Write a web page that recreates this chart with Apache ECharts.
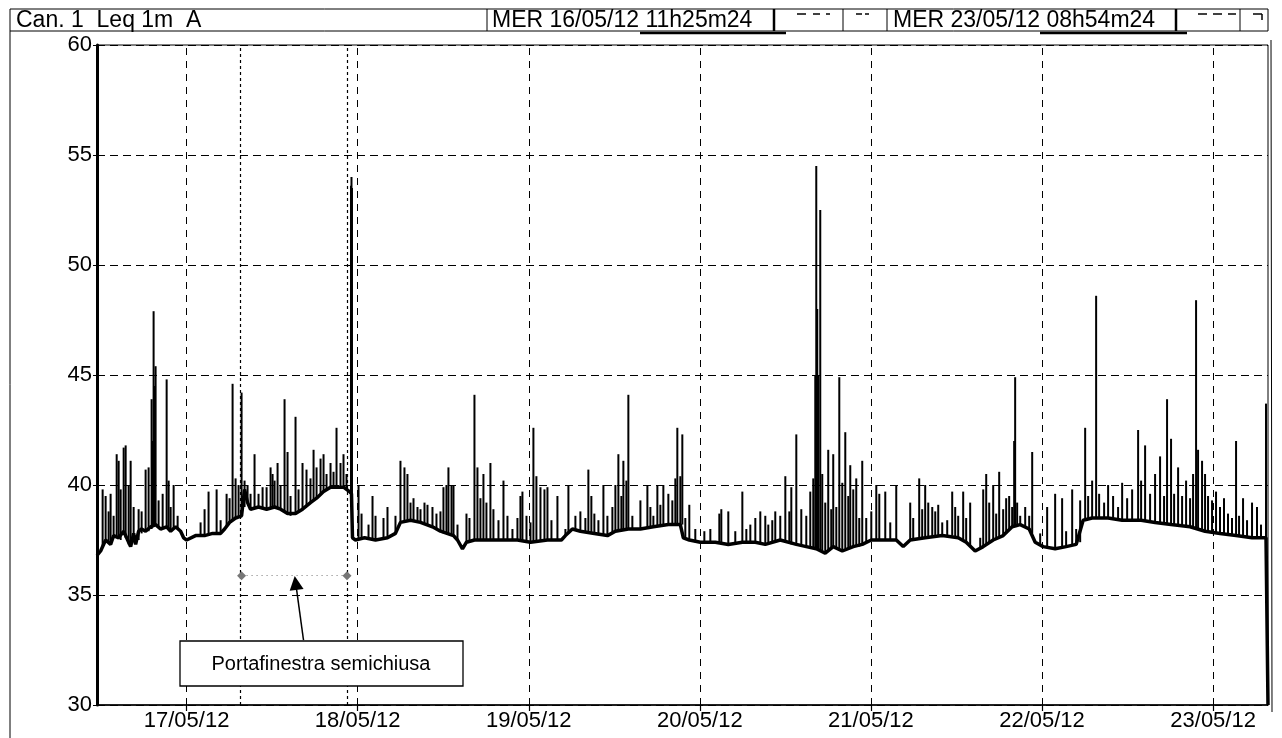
<!DOCTYPE html>
<html><head><meta charset="utf-8">
<script src="https://cdn.jsdelivr.net/npm/echarts@6/dist/echarts.min.js"></script>
<style>html,body{margin:0;padding:0;background:#fff}#c{width:1282px;height:738px}</style>
</head><body><div id="c"></div>
<script>
// x values: hours since 16/05/12 00:00
const xStart = 11.43, xEnd = 175.70;
const dayTicks = [24, 48, 72, 96, 120, 144, 168];
const dayLabels = ['17/05/12','18/05/12','19/05/12','20/05/12','21/05/12','22/05/12','23/05/12'];
const yMin = 30, yMax = 60, yStep = 5;

// baseline level [hour, dB]
const baseline = [
[11.43,36.8],[11.94,37.0],[12.64,37.5],[13.34,37.3],[13.76,37.7],[14.47,37.6],[15.17,37.9],[15.87,37.4],[16.15,37.2],[16.57,37.8],
[16.85,37.3],[17.27,37.9],[17.69,38.0],[18.25,37.9],[18.95,38.1],[19.65,38.2],[20.35,38.0],[21.20,38.1],[21.76,37.9],[22.46,38.1],
[23.16,37.9],[23.58,37.6],[24.00,37.5],[25.26,37.7],[26.52,37.7],[27.65,37.8],[28.77,37.8],[29.33,38.0],[30.03,38.3],[30.87,38.5],
[31.71,38.6],[32.13,39.8],[32.55,39.2],[32.97,38.9],[34.09,39.0],[35.22,38.9],[36.34,39.0],[37.18,38.9],[38.16,38.7],[39.28,38.7],
[40.26,38.9],[41.38,39.2],[42.23,39.4],[43.21,39.7],[44.19,39.9],[45.03,39.9],[46.01,39.9],[46.85,39.7],[47.13,39.6],[47.27,37.6],
[47.69,37.5],[48.96,37.6],[50.50,37.5],[52.18,37.6],[53.30,37.8],[54.00,38.3],[55.41,38.4],[56.81,38.3],[58.49,38.1],[59.61,37.9],
[61.44,37.7],[62.00,37.5],[62.70,37.1],[63.26,37.4],[64.38,37.5],[66.62,37.5],[68.45,37.5],[70.41,37.5],[72.24,37.4],[74.62,37.5],
[76.58,37.5],[77.14,37.7],[78.12,38.0],[79.24,37.9],[81.20,37.8],[83.03,37.7],[84.15,37.9],[85.97,38.0],[87.66,38.0],[89.48,38.1],
[91.58,38.2],[93.26,38.2],[93.68,37.6],[94.52,37.5],[96.07,37.4],[98.17,37.4],[99.99,37.3],[101.96,37.4],[103.78,37.4],[105.18,37.3],
[107.28,37.5],[109.53,37.3],[110.93,37.2],[112.33,37.1],[113.59,36.9],[114.71,37.2],[115.98,37.0],[117.52,37.2],[118.78,37.3],[120.05,37.5],
[122.01,37.5],[123.55,37.5],[124.53,37.2],[125.51,37.5],[127.61,37.6],[130.00,37.7],[132.24,37.6],[133.36,37.4],[134.62,37.0],[135.75,37.2],
[137.15,37.5],[138.55,37.7],[139.81,38.1],[140.94,38.2],[142.20,38.0],[143.04,37.4],[144.16,37.2],[145.84,37.1],[147.38,37.2],[148.79,37.3],
[149.77,38.4],[151.03,38.5],[153.27,38.5],[155.24,38.4],[157.90,38.4],[159.86,38.3],[162.10,38.2],[164.77,38.1],[166.87,37.9],[168.97,37.8],
[171.22,37.7],[173.46,37.6],[175.42,37.6],[175.70,30.0]
];

// short peaks [hour, from dB, to dB]
const spikes = [
[12.22,37.2,39.8],[12.64,37.4,39.5],[13.06,37.4,38.8],[13.34,37.3,39.6],[13.76,37.6,38.6],[14.19,37.6,41.4],[14.47,37.6,41.1],[14.75,37.5,39.8],
[15.17,37.8,41.7],[15.45,37.6,41.8],[15.87,37.3,40.0],[16.15,37.2,41.1],[16.57,37.6,39.0],[17.27,37.5,38.9],[17.69,37.8,38.8],[18.25,37.9,40.7],
[18.67,37.9,40.8],[19.09,38.0,43.9],[19.23,38.1,42.0],[19.37,38.1,47.9],[19.51,38.2,44.5],[19.65,38.2,45.4],[20.07,38.1,39.3],[20.64,38.0,39.6],
[21.20,38.1,44.8],[21.48,38.0,40.2],[21.76,37.9,39.0],[22.18,38.0,40.0],[22.74,38.0,38.6],
[25.96,37.7,38.3],[26.52,37.7,38.9],[27.08,37.7,39.7],[28.21,37.8,39.8],[28.77,37.8,38.4],[29.61,38.1,39.6],[30.03,38.3,39.4],[30.45,38.4,44.6],
[30.87,38.5,40.3],[31.29,38.6,40.0],[31.71,38.6,44.2],
[32.13,39.0,40.2],[32.55,39.2,40.0],[32.97,38.9,39.6],[33.53,39.0,41.4],[34.09,39.0,39.6],[34.66,38.9,39.9],[35.22,38.9,39.9],[35.78,39.0,40.8],
[36.06,39.0,40.5],[36.34,39.0,40.2],[36.76,39.0,41.0],[37.18,38.9,40.0],[37.74,38.8,43.9],[38.16,38.7,41.5],[38.58,38.6,39.5],[39.28,38.7,43.1],
[39.70,38.8,39.8],[40.26,38.9,41.0],[40.82,39.0,40.7],[41.38,39.2,40.3],[41.81,39.3,41.6],[42.23,39.4,40.8],[42.79,39.6,41.2],[43.21,39.7,41.4],
[43.63,39.8,40.5],[44.19,39.9,41.0],[44.61,39.9,40.6],[45.03,39.9,42.6],[45.59,39.9,41.0],[46.01,39.9,41.4],[46.43,39.8,40.5],[47.06,39.6,53.6],[47.13,39.6,54.0],[47.20,39.0,53.5],
[48.12,37.5,40.0],[48.54,37.5,38.7],[49.52,37.6,38.2],[50.08,37.5,39.5],[50.50,37.5,38.6],[51.62,37.6,38.5],[52.18,37.6,39.0],[53.30,37.8,38.6],
[54.00,38.3,41.1],[54.56,38.4,40.8],[54.98,38.4,40.5],[55.41,38.4,39.2],[55.83,38.4,39.4],[56.39,38.3,39.0],[56.81,38.3,38.9],[57.37,38.2,39.2],
[57.79,38.2,39.1],[58.49,38.1,39.0],[59.05,38.0,38.7],[59.61,37.9,38.8],[60.03,37.8,39.9],[60.45,37.8,40.0],[60.73,37.8,40.8],[61.16,37.7,40.0],
[61.44,37.7,40.0],[62.00,37.5,38.2],[63.26,37.4,38.7],[63.68,37.4,38.5],[64.38,37.5,44.1],[64.80,37.5,40.8],[65.22,37.5,39.4],[65.64,37.5,40.5],
[66.06,37.5,39.2],[66.62,37.5,41.0],[67.04,37.5,38.9],[67.75,37.5,38.4],[68.45,37.5,40.2],[69.01,37.5,38.6],[69.71,37.5,38.0],[70.41,37.5,38.5],
[70.83,37.5,39.5],[71.11,37.5,39.7],[71.68,37.4,38.6],[72.24,37.4,38.3],[72.65,37.4,42.6],[73.07,37.4,40.4],[73.64,37.5,39.9],[74.20,37.5,39.8],
[74.62,37.5,39.9],[75.18,37.5,38.4],[76.02,37.5,39.5],[77.14,37.7,38.0],[77.56,37.8,40.0],[78.54,38.0,38.6],[79.24,37.9,38.8],[79.94,37.9,38.5],
[80.36,37.9,40.7],[80.78,37.8,39.5],[81.20,37.8,38.7],[81.77,37.8,38.4],[82.47,37.7,40.0],[83.03,37.7,38.6],
[83.73,37.8,39.0],[84.15,37.9,40.0],[84.57,37.9,41.4],[84.99,37.9,39.5],[85.27,38.0,41.1],[85.69,38.0,40.2],[85.97,38.0,44.1],[86.53,38.0,38.6],
[87.66,38.0,39.3],[88.64,38.0,40.0],[89.06,38.1,39.0],[89.48,38.1,38.6],[90.04,38.1,40.0],[90.46,38.1,39.1],[90.88,38.2,40.0],[91.58,38.2,39.6],
[92.14,38.2,39.3],[92.56,38.2,40.3],[92.84,38.2,42.6],[93.26,38.2,40.4],[93.54,38.2,42.3],[93.96,37.6,38.5],[94.52,37.5,39.1],[95.36,37.4,38.0],
[96.63,37.4,37.9],[97.47,37.4,38.0],[98.73,37.4,38.7],[99.01,37.4,38.9],[99.99,37.3,38.8],[100.97,37.3,37.9],[101.96,37.4,39.7],[102.52,37.4,38.0],
[103.08,37.4,38.2],[103.78,37.4,38.5],[104.48,37.4,38.8],[105.18,37.3,38.6],[105.60,37.3,38.2],[106.16,37.4,38.4],[106.58,37.4,38.8],[107.28,37.5,38.6],
[107.99,37.4,40.4],[108.55,37.4,38.8],[108.83,37.3,39.9],[109.53,37.3,42.3],[110.23,37.2,38.9],[110.93,37.2,38.6],[111.49,37.2,39.7],[111.91,37.1,40.3],
[112.19,37.1,45.0],[112.33,37.1,54.5],[112.47,37.1,48.0],[112.61,37.0,45.0],[112.89,37.0,52.5],[113.17,37.0,40.5],[113.59,36.9,39.2],[114.01,37.0,41.6],
[114.43,37.1,38.9],[114.71,37.2,41.4],[115.14,37.1,39.0],[115.56,37.0,44.9],[115.98,37.0,40.1],[116.40,37.1,42.4],[116.82,37.1,39.5],[117.10,37.1,40.9],
[117.52,37.2,39.8],[117.94,37.2,40.3],[118.36,37.2,38.5],[118.78,37.3,41.1],
[119.34,37.4,38.5],[120.05,37.5,38.8],[120.75,37.5,40.0],[121.17,37.5,39.6],[122.01,37.5,39.7],[122.71,37.5,38.3],[123.55,37.5,40.0],[125.51,37.5,39.2],
[125.93,37.5,38.5],[126.77,37.5,40.3],[127.19,37.6,38.9],[127.61,37.6,40.0],[128.04,37.6,39.2],[128.60,37.6,39.0],[129.02,37.6,38.8],[129.44,37.7,39.1],
[130.00,37.7,38.3],[130.70,37.7,38.4],[131.40,37.7,39.7],[131.82,37.6,39.0],[132.24,37.6,38.6],[132.94,37.5,39.7],[133.36,37.4,38.5],[133.92,37.2,39.2],
[135.33,37.1,37.6],[135.75,37.2,39.8],[136.17,37.3,40.5],[136.59,37.4,39.2],[137.15,37.5,40.0],[137.57,37.6,38.7],[137.99,37.6,40.6],[138.55,37.7,38.9],
[138.97,37.8,39.4],[139.39,38.0,39.5],[139.81,38.1,39.0],[140.09,38.1,42.0],[140.23,38.1,44.9],[140.51,38.2,39.2],[140.94,38.2,38.6],[141.64,38.1,39.0],
[142.20,38.0,38.6],[142.62,37.8,41.5],[143.74,37.3,37.8],[144.72,37.2,39.0],[145.84,37.1,39.6],[146.82,37.2,39.4],[147.38,37.2,37.9],
[148.23,37.3,39.8],[148.79,37.3,38.0],[149.35,37.4,39.3],[150.05,38.4,42.6],[150.47,38.5,39.5],[151.03,38.5,40.2],[151.59,38.5,48.6],[152.01,38.5,39.6],
[152.71,38.5,39.2],[153.27,38.5,40.0],[153.97,38.5,39.5],[154.67,38.4,39.0],[155.24,38.4,40.1],[155.94,38.4,39.4],[156.64,38.4,39.8],[157.48,38.4,42.5],
[157.90,38.4,40.2],[158.46,38.4,41.8],[159.16,38.3,39.6],[159.86,38.3,40.5],[160.56,38.3,41.3],[161.12,38.2,39.5],[161.54,38.2,43.9],[162.10,38.2,42.1],
[162.53,38.2,39.6],[163.09,38.2,40.8],[163.65,38.1,39.5],[164.21,38.1,40.2],[164.77,38.1,39.4],[165.19,38.0,40.5],[165.61,38.0,48.4],[165.89,38.0,41.6],
[166.45,38.0,41.1],[166.87,37.9,40.5],[167.29,37.9,39.5],[167.85,37.9,39.3],[168.41,37.8,39.7],[168.97,37.8,39.0],[169.53,37.8,39.4],[170.09,37.7,38.7],
[170.65,37.7,38.5],[171.22,37.7,42.0],[171.64,37.7,38.6],[172.20,37.6,39.4],[172.76,37.6,38.4],[173.46,37.6,39.2],[174.16,37.6,39.0],[174.72,37.6,38.2],
[175.42,37.6,43.7]
];

// annotation (window half closed) in data units
const windowStart = 31.57, windowEnd = 46.57, windowLevel = 35.88;
const arrowFrom = [40.40, 32.95], arrowTo = [39.30, 35.55];
const noteText = 'Portafinestra semichiusa';
const headerLeft = 'Can. 1  Leq 1m  A';
const headerStart = 'MER 16/05/12 11h25m24';
const headerEnd = 'MER 23/05/12 08h54m24';

const chart = echarts.init(document.getElementById('c'), null, {renderer: 'canvas'});
const FONT = 'Liberation Sans, Arial, sans-serif';

const hl = (x1, y1, x2, y2, w, dash) => ({type: 'line', shape: {x1, y1, x2, y2}, style: {stroke: '#000', lineWidth: w || 1, lineDash: dash || null}, silent: true});

chart.setOption({
  animation: false,
  backgroundColor: '#fff',
  grid: {left: 97, right: 14, top: 45, bottom: 33, show: true, borderColor: '#000', borderWidth: 1},
  xAxis: {
    type: 'value', min: xStart, max: xEnd,
    axisLine: {show: true, onZero: false, lineStyle: {color: '#000', width: 1.5}},
    axisTick: {show: true, customValues: dayTicks, length: 6, lineStyle: {color: '#000', width: 1.2}},
    axisLabel: {customValues: dayTicks, formatter: v => dayLabels[dayTicks.indexOf(v)] || '', color: '#000', fontSize: 22, fontFamily: FONT, margin: 5},
    splitLine: {show: false}
  },
  yAxis: {
    type: 'value', min: yMin, max: yMax, interval: yStep,
    axisLine: {show: true, lineStyle: {color: '#000', width: 3}},
    axisTick: {show: true, length: 4, lineStyle: {color: '#000'}},
    axisLabel: {color: '#000', fontSize: 22, fontFamily: FONT, margin: 5},
    splitLine: {show: true, lineStyle: {color: '#000', width: 1.2, type: [8, 5]}}
  },
  series: [
    {
      type: 'line', data: baseline, showSymbol: false, symbol: 'none', smooth: false,
      lineStyle: {color: '#000', width: 3.5}, z: 3,
      markLine: {
        silent: true, symbol: ['none', 'none'], label: {show: false},
        lineStyle: {color: '#000', width: 1, type: [7, 6]},
        data: dayTicks.map(d => ({xAxis: d}))
      }
    },
    {
      type: 'custom', data: spikes, encode: {x: 0, y: [1, 2]}, clip: true, z: 4,
      renderItem: (params, api) => {
        const p0 = api.coord([api.value(0), api.value(1)]);
        const p1 = api.coord([api.value(0), api.value(2)]);
        return {type: 'line', shape: {x1: p0[0], y1: p0[1], x2: p1[0], y2: p1[1]}, style: {stroke: '#000', lineWidth: 2}};
      }
    },
    {
      type: 'line', data: [], z: 2,
      markLine: {
        silent: true, symbol: ['none', 'none'], label: {show: false},
        lineStyle: {color: '#000', width: 1.2, type: [3, 3]},
        data: [{xAxis: windowStart}, {xAxis: windowEnd}]
      }
    },
    {
      type: 'line', data: [], z: 5,
      markLine: {
        silent: true, label: {show: false},
        data: [
          [{coord: [windowStart + 0.14, windowLevel], symbol: 'diamond', symbolSize: 9, lineStyle: {color: '#777', width: 1, type: [1, 4]}},
           {coord: [windowEnd - 0.07, windowLevel], symbol: 'diamond', symbolSize: 9}],
          [{coord: arrowFrom, symbol: 'none', lineStyle: {color: '#000', width: 1.5, type: 'solid'}},
           {coord: arrowTo, symbol: 'triangle', symbolSize: [14, 14]}]
        ],
        itemStyle: {color: '#000'}
      }
    }
  ],
  graphic: [
    {type: 'rect', shape: {x: 10, y: 9, width: 1258, height: 22}, style: {fill: 'none', stroke: '#000', lineWidth: 1}, silent: true},
    hl(10, 31, 10, 738, 1),
    hl(1271, 40, 1272, 712, 1),
    {type: 'text', left: 16, top: 9, style: {text: headerLeft, font: '23px ' + FONT, fill: '#000'}, silent: true},
    hl(487, 9, 487, 31, 1),
    {type: 'text', left: 492, top: 9, style: {text: headerStart, font: '23px ' + FONT, fill: '#000'}, silent: true},
    hl(774, 9, 774, 31, 2.5),
    hl(640, 33, 786, 33, 2.5),
    hl(797, 14, 806, 14, 1.5), hl(813, 14, 820, 14, 1.5), hl(826, 14, 830, 14, 1.5),
    hl(843, 9, 843, 31, 1),
    hl(856, 14, 862, 14, 1.5), hl(865, 14, 869, 14, 1.5),
    hl(887, 9, 887, 31, 1),
    {type: 'text', left: 893, top: 9, style: {text: headerEnd, font: '23px ' + FONT, fill: '#000'}, silent: true},
    hl(1176, 9, 1176, 31, 2.5),
    hl(1040, 33, 1187, 33, 2.5),
    hl(1198, 14, 1207, 14, 1.5), hl(1213, 14, 1222, 14, 1.5), hl(1228, 14, 1236, 14, 1.5),
    hl(1240, 9, 1240, 31, 1),
    hl(1253, 14, 1262, 14, 1.5), hl(1262, 14, 1262, 20, 1.5),
    {type: 'rect', shape: {x: 180, y: 641, width: 283, height: 45}, style: {fill: '#fff', stroke: '#000', lineWidth: 1.3}, z: 100, silent: true},
    {type: 'text', x: 321, y: 664, z: 101, style: {text: noteText, font: '20px ' + FONT, fill: '#000', align: 'center', verticalAlign: 'middle'}, silent: true}
  ]
});
</script>
</body></html>
